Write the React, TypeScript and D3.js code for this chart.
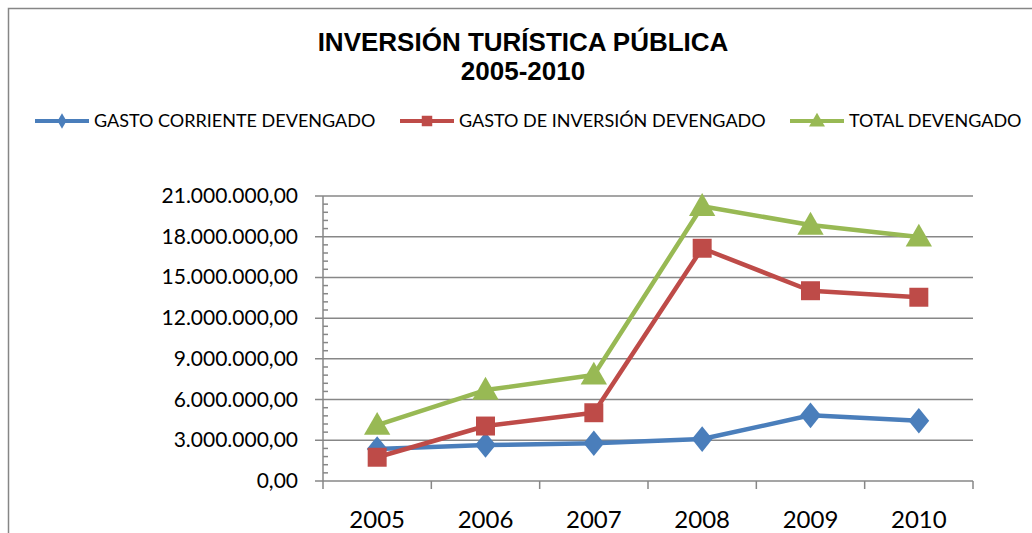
import React, { useRef, useEffect } from "react";
import * as d3 from "d3";

const years = ["2005", "2006", "2007", "2008", "2009", "2010"];
const gastoCorriente = [2360000, 2650000, 2780000, 3090000, 4840000, 4440000];
const gastoInversion = [1750000, 4050000, 5030000, 17150000, 14020000, 13540000];
const totalDevengado = [4110000, 6700000, 7810000, 20240000, 18860000, 17980000];
const yTicks = [0, 3000000, 6000000, 9000000, 12000000, 15000000, 18000000, 21000000];

const seriesNames = ["GASTO CORRIENTE DEVENGADO", "GASTO DE INVERSIÓN DEVENGADO", "TOTAL DEVENGADO"];
const seriesColors = ["#4A7EBB", "#BE4B48", "#98B954"];
const seriesMarkers = [d3.symbolDiamond, d3.symbolSquare, d3.symbolTriangle];

const fmt = (v: number) => {
  const s = Math.round(v).toString().replace(/\B(?=(\d{3})+(?!\d))/g, ".");
  return s + ",00";
};

const App = () => {
  const svgRef = useRef<SVGSVGElement>(null);

  useEffect(() => {
    const svg = d3.select(svgRef.current);
    svg.selectAll("*").remove();

    const width = 1032;
    const height = 533;
    const plot = { left: 323, right: 973, top: 196, bottom: 481 };

    // frame
    svg
      .append("rect")
      .attr("x", 8.5)
      .attr("y", 8.5)
      .attr("width", width + 20)
      .attr("height", height + 20)
      .attr("fill", "#fff")
      .attr("stroke", "#868686")
      .attr("stroke-width", 1.5);

    // title
    svg
      .append("text")
      .attr("x", 523)
      .attr("y", 51)
      .attr("text-anchor", "middle")
      .attr("font-family", "Liberation Sans, Arial, sans-serif")
      .attr("font-weight", "bold")
      .attr("font-size", 26)
      .text("INVERSIÓN TURÍSTICA PÚBLICA");
    svg
      .append("text")
      .attr("x", 523)
      .attr("y", 80)
      .attr("text-anchor", "middle")
      .attr("font-family", "Liberation Sans, Arial, sans-serif")
      .attr("font-weight", "bold")
      .attr("font-size", 26)
      .text("2005-2010");

    const x = d3.scaleBand().domain(years).range([plot.left, plot.right]);
    const y = d3.scaleLinear().domain([0, 21000000]).range([plot.bottom, plot.top]);

    // gridlines
    svg
      .append("g")
      .selectAll("line")
      .data(yTicks.filter((t) => t > 0))
      .enter()
      .append("line")
      .attr("x1", plot.left - 8)
      .attr("x2", plot.right)
      .attr("y1", (d) => y(d))
      .attr("y2", (d) => y(d))
      .attr("stroke", "#878787")
      .attr("stroke-width", 1.5);

    // minor ticks on y axis
    const minor = d3.range(0, 21000001, 600000).filter((v) => v % 3000000 !== 0);
    svg
      .append("g")
      .selectAll("line")
      .data(minor)
      .enter()
      .append("line")
      .attr("x1", plot.left)
      .attr("x2", plot.left + 5)
      .attr("y1", (d) => y(d))
      .attr("y2", (d) => y(d))
      .attr("stroke", "#878787")
      .attr("stroke-width", 1.5);

    // y axis line
    svg
      .append("line")
      .attr("x1", plot.left)
      .attr("x2", plot.left)
      .attr("y1", plot.top)
      .attr("y2", plot.bottom)
      .attr("stroke", "#878787")
      .attr("stroke-width", 1.5);

    // x axis line + ticks
    svg
      .append("line")
      .attr("x1", plot.left - 8)
      .attr("x2", plot.right)
      .attr("y1", plot.bottom)
      .attr("y2", plot.bottom)
      .attr("stroke", "#878787")
      .attr("stroke-width", 1.5);
    const bounds = years.map((yr) => x(yr) as number).concat([plot.right]);
    svg
      .append("g")
      .selectAll("line")
      .data(bounds)
      .enter()
      .append("line")
      .attr("x1", (d) => d)
      .attr("x2", (d) => d)
      .attr("y1", plot.bottom)
      .attr("y2", plot.bottom + 8)
      .attr("stroke", "#878787")
      .attr("stroke-width", 1.5);

    // y labels
    svg
      .append("g")
      .selectAll("text")
      .data(yTicks)
      .enter()
      .append("text")
      .attr("x", 298)
      .attr("y", (d) => y(d) + 7)
      .attr("text-anchor", "end")
      .attr("font-family", "Lato, sans-serif")
      .attr("font-size", 21)
      .text((d) => fmt(d));

    // x labels
    svg
      .append("g")
      .selectAll("text")
      .data(years)
      .enter()
      .append("text")
      .attr("x", (d) => (x(d) as number) + x.bandwidth() / 2)
      .attr("y", 528)
      .attr("text-anchor", "middle")
      .attr("font-family", "Lato, sans-serif")
      .attr("font-size", 24)
      .text((d) => d);

    // series
    const allSeries = [gastoCorriente, gastoInversion, totalDevengado];
    const cx = (i: number) => (x(years[i]) as number) + x.bandwidth() / 2;
    const line = d3
      .line<number>()
      .x((_, i) => cx(i))
      .y((d) => y(d));
    const markerSizes = [190, 360, 300];

    allSeries.forEach((vals, si) => {
      svg
        .append("path")
        .datum(vals)
        .attr("d", line)
        .attr("fill", "none")
        .attr("stroke", seriesColors[si])
        .attr("stroke-width", 4.5)
        .attr("stroke-linejoin", "round");
      svg
        .append("g")
        .selectAll("path")
        .data(vals)
        .enter()
        .append("path")
        .attr("d", d3.symbol().type(seriesMarkers[si]).size(markerSizes[si]))
        .attr("transform", (d, i) => `translate(${cx(i)},${y(d) + (si === 2 ? 2 : 0)})${si === 0 ? " scale(1.4,1)" : ""}`)
        .attr("fill", seriesColors[si]);
    });

    // legend
    const legendX = [35, 400, 790];
    seriesNames.forEach((name, si) => {
      const g = svg.append("g").attr("transform", `translate(${legendX[si]},121)`);
      g.append("line")
        .attr("x1", 0)
        .attr("x2", 54)
        .attr("stroke", seriesColors[si])
        .attr("stroke-width", 4);
      g.append("path")
        .attr("d", d3.symbol().type(seriesMarkers[si]).size(si === 0 ? 70 : 110))
        .attr("transform", `translate(27,${si === 2 ? 1 : 0})`)
        .attr("fill", seriesColors[si]);
      g.append("text")
        .attr("x", 59)
        .attr("y", 6)
        .attr("font-family", "Lato, sans-serif")
        .attr("font-size", 18)
        .text(name);
    });
  }, []);

  return (
    <div style={{ position: "absolute", left: 0, top: 0 }}>
      <svg ref={svgRef} width={1032} height={533} style={{ display: "block" }}></svg>
    </div>
  );
};

export default App;
